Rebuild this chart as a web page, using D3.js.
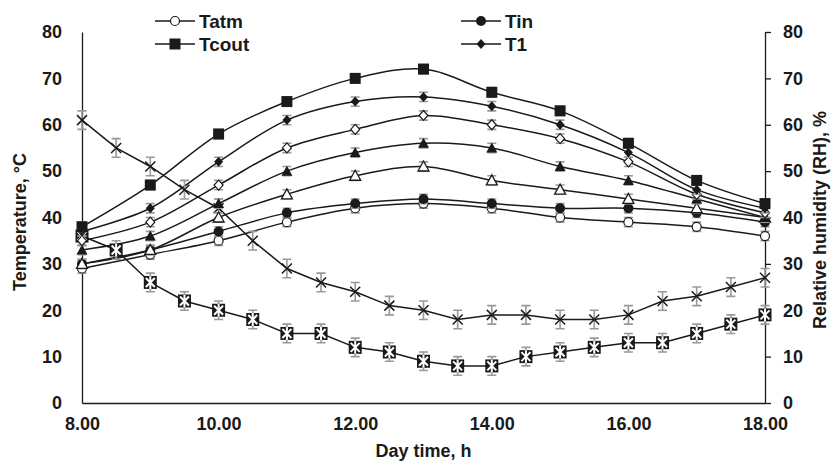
<!DOCTYPE html>
<html>
<head>
<meta charset="utf-8">
<script src="https://cdn.jsdelivr.net/npm/d3@7"></script>
<style>
  body { margin: 0; background: #fff; }
  svg text { font-family: "Liberation Sans", Arial, sans-serif; font-weight: bold; fill: #1a1a1a; }
</style>
</head>
<body>
<div id="container"></div>
<script>
let width = 834;
let height = 469;
let margin = { left: 82, right: 69, top: 32, bottom: 66 };

// hourly temperatures, °C
let hours = [8, 9, 10, 11, 12, 13, 14, 15, 16, 17, 18];
let tatm  = [29, 32, 35, 39, 42, 43, 42, 40, 39, 38, 36];
let tin   = [30, 33, 37, 41, 43, 44, 43, 42, 42, 41, 39];
let tcout = [38, 47, 58, 65, 70, 72, 67, 63, 56, 48, 43];
let t1    = [37, 42, 52, 61, 65, 66, 64, 60, 54, 46, 42];
let t2    = [35, 39, 47, 55, 59, 62, 60, 57, 52, 45, 41];
let t3    = [33, 36, 43, 50, 54, 56, 55, 51, 48, 44, 40];
let t4    = [30, 33, 40, 45, 49, 51, 48, 46, 44, 42, 40];
let tempErr = 1;

// half-hourly relative humidity, %
let halfHours = [8, 8.5, 9, 9.5, 10, 10.5, 11, 11.5, 12, 12.5, 13, 13.5, 14, 14.5, 15, 15.5, 16, 16.5, 17, 17.5, 18];
let rh1 = [61, 55, 51, 46, 42, 35, 29, 26, 24, 21, 20, 18, 19, 19, 18, 18, 19, 22, 23, 25, 27];
let rh2 = [36, 33, 26, 22, 20, 18, 15, 15, 12, 11, 9, 8, 8, 10, 11, 12, 13, 13, 15, 17, 19];
let rhErr = 2;

let xTicks = [8, 10, 12, 14, 16, 18];
let yTicks = [0, 10, 20, 30, 40, 50, 60, 70, 80];

let svg = d3.select("#container").append("svg")
  .attr("width", width)
  .attr("height", height);

let x = d3.scaleLinear().domain([8, 18]).range([margin.left, width - margin.right]);
let y = d3.scaleLinear().domain([0, 80]).range([height - margin.bottom, margin.top]);
let yR = d3.scaleLinear().domain([0, 80]).range([height - margin.bottom, margin.top]);

// axes
svg.append("g")
  .attr("transform", `translate(0,${height - margin.bottom})`)
  .call(d3.axisBottom(x).tickValues(xTicks).tickSize(0).tickPadding(14).tickFormat(d3.format(".2f")))
  .call(g => g.select(".domain").attr("stroke", "#1a1a1a").attr("stroke-width", 1.3))
  .call(g => g.selectAll("text").style("font-size", "18px"));

svg.append("g")
  .attr("transform", `translate(${margin.left},0)`)
  .call(d3.axisLeft(y).tickValues(yTicks).tickSize(0).tickPadding(20))
  .call(g => g.select(".domain").attr("stroke", "#1a1a1a").attr("stroke-width", 1.3))
  .call(g => g.selectAll("text").style("font-size", "18px"));

svg.append("g")
  .attr("transform", `translate(${width - margin.right},0)`)
  .call(d3.axisRight(yR).tickValues(yTicks).tickSize(6).tickSizeOuter(0).tickPadding(12))
  .call(g => g.select(".domain").attr("stroke", "#1a1a1a").attr("stroke-width", 1.3))
  .call(g => g.selectAll("line").attr("stroke", "#1a1a1a").attr("stroke-width", 1.3))
  .call(g => g.selectAll("text").style("font-size", "18px"));

svg.append("text")
  .attr("x", (margin.left + width - margin.right) / 2)
  .attr("y", 457)
  .attr("text-anchor", "middle")
  .style("font-size", "18px")
  .text("Day time, h");

svg.append("text")
  .attr("transform", "translate(26,222) rotate(-90)")
  .attr("text-anchor", "middle")
  .style("font-size", "18px")
  .text("Temperature, °C");

svg.append("text")
  .attr("transform", "translate(826,220) rotate(-90)")
  .attr("text-anchor", "middle")
  .style("font-size", "18px")
  .text("Relative humidity (RH), %");

// marker shapes
function drawMarker(g, kind, cx, cy) {
  if (kind === "ocircle") {
    g.append("circle").attr("cx", cx).attr("cy", cy).attr("r", 4.5)
      .attr("fill", "#fff").attr("stroke", "#1a1a1a").attr("stroke-width", 1.2);
  } else if (kind === "circle") {
    g.append("circle").attr("cx", cx).attr("cy", cy).attr("r", 5).attr("fill", "#1a1a1a");
  } else if (kind === "square") {
    g.append("rect").attr("x", cx - 5.5).attr("y", cy - 5.5).attr("width", 11).attr("height", 11).attr("fill", "#1a1a1a");
  } else if (kind === "diamond") {
    g.append("path").attr("d", `M${cx},${cy - 5}L${cx + 4.5},${cy}L${cx},${cy + 5}L${cx - 4.5},${cy}Z`).attr("fill", "#1a1a1a");
  } else if (kind === "odiamond") {
    g.append("path").attr("d", `M${cx},${cy - 5}L${cx + 4.5},${cy}L${cx},${cy + 5}L${cx - 4.5},${cy}Z`)
      .attr("fill", "#fff").attr("stroke", "#1a1a1a").attr("stroke-width", 1.2);
  } else if (kind === "triangle") {
    g.append("path").attr("d", `M${cx},${cy - 5.5}L${cx + 5.5},${cy + 4.5}L${cx - 5.5},${cy + 4.5}Z`).attr("fill", "#1a1a1a");
  } else if (kind === "otriangle") {
    g.append("path").attr("d", `M${cx},${cy - 5.5}L${cx + 5.5},${cy + 4.5}L${cx - 5.5},${cy + 4.5}Z`)
      .attr("fill", "#fff").attr("stroke", "#1a1a1a").attr("stroke-width", 1.3);
  } else if (kind === "cross") {
    g.append("path").attr("d", `M${cx - 5},${cy - 5}L${cx + 5},${cy + 5}M${cx - 5},${cy + 5}L${cx + 5},${cy - 5}`)
      .attr("stroke", "#1a1a1a").attr("stroke-width", 1.5);
  } else if (kind === "xsquare") {
    g.append("rect").attr("x", cx - 6.5).attr("y", cy - 6.5).attr("width", 13).attr("height", 13).attr("fill", "#1a1a1a");
    g.append("path").attr("d", `M${cx - 4.5},${cy - 4.5}L${cx + 4.5},${cy + 4.5}M${cx - 4.5},${cy + 4.5}L${cx + 4.5},${cy - 4.5}M${cx},${cy - 6.5}V${cy + 6.5}`)
      .attr("stroke", "#fff").attr("stroke-width", 2);
  }
}

let series = [
  { xs: halfHours, vals: rh1, marker: "cross", err: rhErr, curve: d3.curveLinear, scale: yR },
  { xs: halfHours, vals: rh2, marker: "xsquare", err: rhErr, curve: d3.curveLinear, scale: yR },
  { xs: hours, vals: tatm, marker: "ocircle", err: tempErr, curve: d3.curveCatmullRom, scale: y },
  { xs: hours, vals: tin, marker: "circle", err: tempErr, curve: d3.curveCatmullRom, scale: y },
  { xs: hours, vals: t4, marker: "otriangle", err: tempErr, curve: d3.curveCatmullRom, scale: y },
  { xs: hours, vals: t3, marker: "triangle", err: tempErr, curve: d3.curveCatmullRom, scale: y },
  { xs: hours, vals: t2, marker: "odiamond", err: tempErr, curve: d3.curveCatmullRom, scale: y },
  { xs: hours, vals: t1, marker: "diamond", err: tempErr, curve: d3.curveCatmullRom, scale: y },
  { xs: hours, vals: tcout, marker: "square", err: tempErr, curve: d3.curveCatmullRom, scale: y }
];

let plot = svg.append("g");

series.forEach(function (s) {
  let pts = s.xs.map((h, i) => [h, s.vals[i]]);
  let line = d3.line().x(d => x(d[0])).y(d => s.scale(d[1])).curve(s.curve);
  plot.append("path").attr("d", line(pts)).attr("fill", "none")
    .attr("stroke", "#1a1a1a").attr("stroke-width", 1.5);
});

// error bars and markers on top of lines
series.forEach(function (s) {
  let g = plot.append("g");
  s.xs.forEach(function (h, i) {
    let cx = x(h);
    let y0 = s.scale(s.vals[i] - s.err);
    let y1 = s.scale(s.vals[i] + s.err);
    g.append("path")
      .attr("d", `M${cx},${y0}V${y1}M${cx - 4.5},${y0}H${cx + 4.5}M${cx - 4.5},${y1}H${cx + 4.5}`)
      .attr("stroke", "#999").attr("stroke-width", 1.6).attr("fill", "none");
    drawMarker(g, s.marker, cx, s.scale(s.vals[i]));
  });
});

// legend
let legendItems = [
  { label: "Tatm", marker: "ocircle", lx: 155, ly: 21 },
  { label: "Tin", marker: "circle", lx: 461, ly: 21 },
  { label: "Tcout", marker: "square", lx: 155, ly: 44 },
  { label: "T1", marker: "diamond", lx: 461, ly: 44 }
];

let legend = svg.append("g");
legendItems.forEach(function (d) {
  legend.append("line").attr("x1", d.lx).attr("x2", d.lx + 40).attr("y1", d.ly).attr("y2", d.ly)
    .attr("stroke", "#1a1a1a").attr("stroke-width", 1.5);
  drawMarker(legend, d.marker, d.lx + 20, d.ly);
  legend.append("text").attr("x", d.lx + 44).attr("y", d.ly + 7)
    .style("font-size", "19px").text(d.label);
});
</script>
</body>
</html>
